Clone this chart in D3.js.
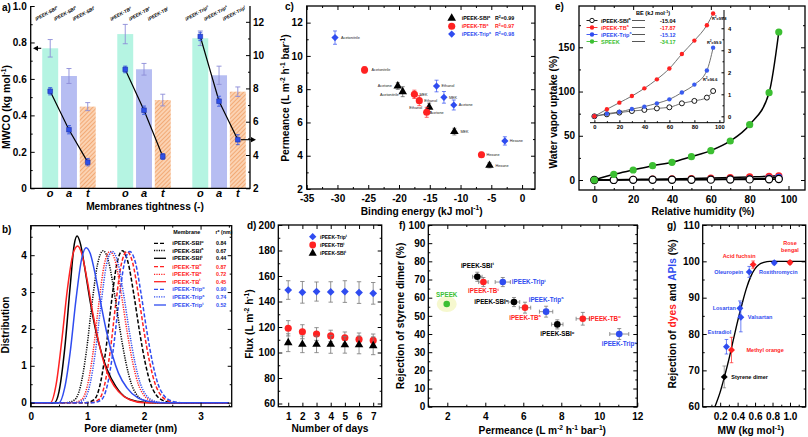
<!DOCTYPE html>
<html><head><meta charset="utf-8">
<script src="https://cdn.jsdelivr.net/npm/d3@7"></script>
<style>body{margin:0;background:#fff}svg{display:block}</style>
</head><body><script>
// ================= DATA =================
// (a) MWCO bars (left axis) and pore values (right axis)
const aMembranes=["iPEEK-SBI","iPEEK-TB","iPEEK-Trip"];
const aTight=["o","a","t"];
const aMWCO=[[0.768,0.616,0.448],[0.846,0.653,0.484],[0.823,0.62,0.53]];
const aMWCOErr=[[0.048,0.041,0.022],[0.053,0.032,0.032],[0.04,0.05,0.026]];
const aPore=[[7.83,5.52,3.57],[9.14,6.69,3.91],[11.12,7.23,4.92]];
const aPoreErr=[[0.22,0.25,0.22],[0.2,0.25,0.18],[0.25,0.3,0.3]];
const aLeftTicks=[0,0.2,0.4,0.6,0.8,1.0];
const aRightTicks=[2,4,6,8,10,12];

// (b) pore size distributions
const bNames=["iPEEK-SBI","iPEEK-SBI","iPEEK-SBI","iPEEK-TB","iPEEK-TB","iPEEK-TB","iPEEK-Trip","iPEEK-Trip","iPEEK-Trip"];
const bSup=["o","a","t","o","a","t","o","a","t"];
const bR=["0.84","0.67","0.44","0.87","0.72","0.45","0.90","0.74","0.52"];
const bSBIo_x=[0,0.97,1.12,1.22,1.32,1.42,1.52,1.62,1.72,1.82,1.92,2.02,2.12,2.22,2.37,2.52,3.5];
const bTBo_x=[0,1.05,1.20,1.30,1.40,1.50,1.60,1.70,1.80,1.90,2.00,2.10,2.20,2.30,2.45,2.60,3.5];
const bTripo_x=[0,1.10,1.25,1.35,1.45,1.55,1.65,1.75,1.85,1.95,2.05,2.15,2.25,2.35,2.50,2.65,3.5];
const bSBIa_x=[0,0.63,0.78,0.88,0.98,1.08,1.18,1.28,1.38,1.48,1.58,1.68,1.78,1.88,2.03,2.18,3.5];
const bTBa_x=[0,0.75,0.90,1.00,1.10,1.20,1.30,1.40,1.50,1.60,1.70,1.80,1.90,2.00,2.15,2.30,3.5];
const bTripa_x=[0,0.79,0.94,1.04,1.14,1.24,1.34,1.44,1.54,1.64,1.74,1.84,1.94,2.04,2.19,2.34,3.5];
const bSBIo_y=[0,0,0.08,0.45,1.35,2.65,3.75,4.12,3.8,2.95,1.95,1.1,0.5,0.2,0.04,0,0];
const bTBo_y=[0,0,0.08,0.45,1.35,2.65,3.75,4.1,3.8,2.95,1.95,1.1,0.5,0.2,0.04,0,0];
const bTripo_y=[0,0,0.08,0.45,1.35,2.65,3.75,4.1,3.8,2.95,1.95,1.1,0.5,0.2,0.04,0,0];
const bSBIa_y=[0,0,0.08,0.45,1.35,2.65,3.75,4.12,3.8,2.95,1.95,1.1,0.5,0.2,0.04,0,0];
const bTBa_y=[0,0,0.08,0.45,1.35,2.65,3.75,4.1,3.8,2.95,1.95,1.1,0.5,0.2,0.04,0,0];
const bTripa_y=[0,0,0.08,0.45,1.35,2.65,3.75,4.1,3.8,2.95,1.95,1.1,0.5,0.2,0.04,0,0];
const bSBIt_x=[0,0.42,0.50,0.60,0.70,0.77,0.82,0.88,0.95,1.05,1.15,1.25,1.35,1.50,1.70,1.90,2.10,3.5];
const bSBIt_y=[0,0,0.3,1.45,3.2,4.3,4.52,4.3,3.7,2.75,1.95,1.35,0.9,0.45,0.12,0.03,0,0];
const bTBt_x=[0,0.35,0.45,0.55,0.65,0.75,0.83,0.90,1.00,1.10,1.20,1.30,1.40,1.55,1.75,2.00,3.5];
const bTBt_y=[0,0,0.5,1.7,3.1,4.05,4.25,4.05,3.3,2.4,1.65,1.05,0.65,0.3,0.08,0,0];
const bTript_x=[0,0.50,0.60,0.70,0.80,0.90,0.98,1.05,1.15,1.25,1.35,1.45,1.55,1.70,1.90,2.10,2.30,3.5];
const bTript_y=[0,0,0.4,1.4,2.8,3.9,4.2,4.05,3.4,2.6,1.85,1.25,0.8,0.4,0.12,0.03,0,0];

// (c) permeance vs binding energy
const cSolvents=["Acetonitrile","Acetone","Ethanol","MEK","Hexane"];
const cSeries=["iPEEK-SBI","iPEEK-TB","iPEEK-Trip"];
const cR2=["0.99","0.97","0.98"];
const cSBI_BE=[-19.4,-20.2,-15.1,-11.0,-5.3];
const cSBI_P=[7.85,8.19,6.91,5.45,3.42];
const cSBI_Err=[0.3,0.2,0.25,0.2,0.15];
const cTB_BE=[-25.6,-15.5,-16.7,-17.5,-6.6];
const cTB_P=[9.16,6.61,7.31,7.69,4.06];
const cTB_Err=[0.2,0.3,0.3,0.25,0.15];
const cTrip_BE=[-30.4,-11.1,-13.9,-12.7,-2.8];
const cTrip_P=[11.1,7.05,8.19,7.51,4.89];
const cTrip_Err=[0.4,0.3,0.35,0.35,0.25];

// (d) flux stability
const dDays=[1,2,3,4,5,6,7];
const dTrip=[149,147.2,147.8,147.5,147.8,147,146.4];
const dTripErr=[7.3,8.5,7.5,8,8.5,8.5,8.5];
const dTB=[119,116.3,114.5,113,111.6,110.3,109.5];
const dTBErr=[6,5.5,5,4.5,4.5,5,5];
const dSBI=[107.7,106.4,106.4,106.4,106,106,105.3];
const dSBIErr=[7,6.5,6.5,7,6.5,7,7];

// (e) water vapour uptake
const eRH=[0,10,20,30,40,50,60,70,80,90,95];
const eSBI=[0,0.09,0.17,0.24,0.29,0.36,0.41,0.59,0.7,0.85,1.15];
const eTB=[0,0.32,0.62,0.92,1.27,1.68,2.17,2.83,3.44,4.14,4.67];
const eTrip=[0,0.12,0.2,0.33,0.44,0.59,0.77,1.08,1.44,2.08,3.12];
const eSPEEK=[0,6.4,11.3,16.2,20,26.4,33.2,44.1,62.5,98.7,167.3];
const eBE=["-15.04","-17.87","-15.12","-34.17"];
const eR2=["96.6","99.8","99.9"];

// (f) rejection vs permeance
const fNames=["SPEEK","iPEEK-SBI","iPEEK-TB","iPEEK-Trip","iPEEK-SBI","iPEEK-TB","iPEEK-Trip","iPEEK-SBI","iPEEK-TB","iPEEK-Trip"];
const fSup=["","t","t","t","a","a","a","o","o","o"];
const fPerm=[1.97,3.58,3.9,4.92,5.51,6.09,7.2,7.79,9.13,11.05];
const fPermErr=[0,0.25,0.25,0.4,0.3,0.3,0.35,0.3,0.35,0.5];
const fRej=[56.5,71.5,68.6,68.6,57.6,54.5,52.3,45.3,48.4,40];
const fRejErr=[0,2.5,2.5,2.5,2.5,3,3,2.5,3.5,3];

// (g) rejection vs MW
const gNames=["Styrene dimer","Estradiol","Methyl orange","Losartan","Valsartan","Oleuropein","Acid fuchsin","Roxithromycin","Rose bengal"];
const gKind=["ref","api","dye","api","api","api","dye","api","dye"];
const gMW=[0.247,0.272,0.33,0.426,0.437,0.533,0.578,0.82,1.0];
const gRej=[68.2,76.5,75.6,87.1,84.6,97.1,99.1,99.6,99.7];
const gErr=[3,2,3.5,2,4,1.5,1,0.5,0.5];
const gFitMW=[0.14,0.2,0.25,0.3,0.35,0.4,0.45,0.5,0.55,0.6,0.65,0.7,0.77,0.9,1.18];
const gFitRej=[60,64,68.3,73,78.3,83.5,88.2,92.5,95.8,98,99.2,99.7,100,100,100];

// ================= HELPERS =================
const FONT="'Liberation Sans', Arial, Helvetica, sans-serif";
const RED="#ff2222", BLU="#2f4cf0", GRN="#3cbf32", BLK="#000";
const svg=d3.select("body").append("svg").attr("width",808).attr("height",437).style("font-family",FONT);
svg.append("rect").attr("width",808).attr("height",437).attr("fill","#fff");
const defs=svg.append("defs");

function txt(g,x,y,segs,o={}){
  const fs=o.fs||10;
  const t=g.append("text").attr("x",x).attr("y",y).attr("font-size",fs)
    .attr("font-weight",o.fw||"bold").attr("fill",o.fill||"#000")
    .attr("text-anchor",o.anchor||"start").attr("font-family",FONT);
  if(o.italic) t.attr("font-style","italic");
  if(o.rotate!=null) t.attr("transform",`rotate(${o.rotate},${x},${y})`);
  if(typeof segs==="string") segs=[segs];
  let up=false;
  segs.forEach(s=>{
    if(typeof s==="string") s={t:s};
    const sp=t.append("tspan").text(s.t);
    if(s.sup){ sp.attr("font-size",fs*0.65); if(!up){sp.attr("dy",-fs*0.4); up=true;} }
    else if(up){ sp.attr("dy",fs*0.4); up=false; }
    if(s.fill) sp.attr("fill",s.fill);
  });
  return t;
}
const nm=(base,sup)=>sup?[base,{t:sup,sup:true}]:[base];

function axes(g,x,y,o){
  const [x0,x1]=x.range(),[yb,yt]=y.range();
  if(o.noTop) g.append("path").attr("d",`M${x0},${yt}V${yb}H${x1}V${yt}`).attr("fill","none").attr("stroke","#000").attr("stroke-width",1.3);
  else g.append("rect").attr("x",x0).attr("y",yt).attr("width",x1-x0).attr("height",yb-yt).attr("fill","none").attr("stroke","#000").attr("stroke-width",1.3);
  const def=d=>String(d);
  const mk=(axis,tr,labels,fmt,pad,size)=>{
    const gg=g.append("g").attr("transform",tr).call(axis.tickSizeInner(-size).tickSizeOuter(0).tickPadding(pad).tickFormat(labels?(fmt||def):()=>""));
    gg.select(".domain").remove();
    gg.selectAll("line").attr("stroke","#000").attr("stroke-width",1);
    gg.selectAll("text").attr("font-size",o.fs||10).attr("font-weight","bold").attr("fill","#000").attr("font-family",FONT);
    return gg;
  };
  if(o.xt){
    mk(d3.axisBottom(x).tickValues(o.xt),`translate(0,${yb})`,true,o.xf,o.xpad??5,4);
    if(o.xm) mk(d3.axisBottom(x).tickValues(o.xm),`translate(0,${yb})`,false,null,0,2);
    if(o.mirror){ mk(d3.axisTop(x).tickValues(o.xt),`translate(0,${yt})`,false,null,0,4);
      if(o.xm) mk(d3.axisTop(x).tickValues(o.xm),`translate(0,${yt})`,false,null,0,2); }
  }
  if(o.yt){
    mk(d3.axisLeft(y).tickValues(o.yt),`translate(${x0},0)`,true,o.yf,o.ypad??4,4);
    if(o.ym) mk(d3.axisLeft(y).tickValues(o.ym),`translate(${x0},0)`,false,null,0,2);
    if(o.mirror){ mk(d3.axisRight(y).tickValues(o.yt),`translate(${x1},0)`,false,null,0,4);
      if(o.ym) mk(d3.axisRight(y).tickValues(o.ym),`translate(${x1},0)`,false,null,0,2); }
  }
}
function sym(g,type,cx,cy,size,fill,stroke,sw){
  const s={tri:d3.symbolTriangle,circle:d3.symbolCircle,square:d3.symbolSquare,diamond:d3.symbolSquare}[type];
  g.append("path").attr("d",d3.symbol(s,size)())
    .attr("transform",`translate(${cx},${cy})${type==="diamond"?" rotate(45)":""}`)
    .attr("fill",fill).attr("stroke",stroke||"none").attr("stroke-width",sw||0.8);
}
function vErr(g,x,y1,y2,cap,col,w){g.append("path").attr("d",`M${x},${y1}V${y2}M${x-cap},${y1}H${x+cap}M${x-cap},${y2}H${x+cap}`).attr("stroke",col).attr("stroke-width",w||0.8).attr("fill","none");}
function hErr(g,y,x1,x2,cap,col,w){g.append("path").attr("d",`M${x1},${y}H${x2}M${x1},${y-cap}V${y+cap}M${x2},${y-cap}V${y+cap}`).attr("stroke",col).attr("stroke-width",w||0.8).attr("fill","none");}
const smooth=d3.line().curve(d3.curveMonotoneX);

// ================= PANEL a =================
{
  const g=svg.append("g");
  const x=d3.scaleLinear().domain([-1.04,10.65]).range([30.7,250]);
  const y=d3.scaleLinear().domain([0,1]).range([188.3,6]);
  const y2=d3.scaleLinear().domain([2,12.95]).range([188.3,6]);
  const pat=defs.append("pattern").attr("id","hatchA").attr("patternUnits","userSpaceOnUse").attr("width",3).attr("height",3).attr("patternTransform","rotate(45)");
  pat.append("rect").attr("width",3).attr("height",3).attr("fill","#fbd2b2");
  pat.append("line").attr("x1",0).attr("y1",0).attr("x2",0).attr("y2",3).attr("stroke","#f0a066").attr("stroke-width",1.6);
  const fills=["#b5f4e2","#b6bdf2","url(#hatchA)"];
  const slot=(gi,ti)=>gi*4+ti;
  const bw=x(0.85)-x(0);
  aMembranes.forEach((m,gi)=>aTight.forEach((t,ti)=>{
    const cx=x(slot(gi,ti)), v=aMWCO[gi][ti], e=aMWCOErr[gi][ti];
    g.append("rect").attr("x",cx-bw/2).attr("y",y(v)).attr("width",bw).attr("height",y(0)-y(v)).attr("fill",fills[ti]);
    vErr(g,cx,y(v-e),y(v+e),2.5,"#8c8cd8",0.9);
    txt(g,cx-14,21,nm(m,t),{fs:4.7,italic:true,rotate:-29});
    txt(g,cx,197,t,{fs:11,italic:true,anchor:"middle"});
  }));
  aMembranes.forEach((m,gi)=>{
    const pts=aTight.map((t,ti)=>[x(slot(gi,ti)),y2(aPore[gi][ti])]);
    g.append("path").attr("d",d3.line()(pts)).attr("stroke","#000").attr("stroke-width",1.2).attr("fill","none");
    aTight.forEach((t,ti)=>{
      const cx=x(slot(gi,ti)),v=aPore[gi][ti],e=aPoreErr[gi][ti];
      vErr(g,cx,y2(v-e),y2(v+e),2,"#3050e0",0.8);
      sym(g,"square",cx,y2(v),22,"#2d4fe8","#1b2fa8",0.6);
    });
  });
  axes(g,x,y,{noTop:true,yt:aLeftTicks,ym:[0.1,0.3,0.5,0.7,0.9],yf:d=>d===0?"0":d3.format(".1f")(d)});
  const gr=g.append("g").attr("transform","translate(250,0)").call(d3.axisRight(y2).tickValues(aRightTicks).tickSizeInner(-4).tickSizeOuter(0).tickPadding(3).tickFormat(d=>String(d)));
  gr.select(".domain").remove(); gr.selectAll("line").attr("stroke","#000");
  gr.selectAll("text").attr("font-size",10).attr("font-weight","bold").attr("font-family",FONT).attr("fill","#000");
  const gm=g.append("g").attr("transform","translate(250,0)").call(d3.axisRight(y2).tickValues([3,5,7,9,11]).tickSizeInner(-2).tickSizeOuter(0).tickFormat(()=>""));
  gm.select(".domain").remove(); gm.selectAll("line").attr("stroke","#000");
  // arrows
  const ya=y(aMWCO[0][0]);
  g.append("line").attr("x1",x(0)-bw/2-1).attr("x2",36).attr("y1",ya).attr("y2",ya).attr("stroke","#000").attr("stroke-width",1.1);
  g.append("path").attr("d",`M33,${ya}l5,-2.6v5.2z`).attr("fill","#000");
  const yb2=y2(aPore[2][2]);
  g.append("line").attr("x1",x(slot(2,2))+3).attr("x2",252).attr("y1",yb2).attr("y2",yb2).attr("stroke","#000").attr("stroke-width",1.1);
  g.append("path").attr("d",`M256,${yb2}l-5,-2.6v5.2z`).attr("fill","#000");
  txt(g,10,107,["MWCO (kg mol",{t:"-1",sup:true},")"],{fs:10.5,rotate:-90,anchor:"middle"});
  txt(g,145,210,"Membranes tightness (-)",{fs:10.2,anchor:"middle"});
  txt(g,2,11,"a)",{fs:10});
}

// ================= PANEL c =================
{
  const g=svg.append("g");
  const x=d3.scaleLinear().domain([-35,2.1]).range([306.7,535]);
  const y=d3.scaleLinear().domain([2,13]).range([189,6]);
  axes(g,x,y,{xt:[-35,-30,-25,-20,-15,-10,-5,0],xm:[-32.5,-27.5,-22.5,-17.5,-12.5,-7.5,-2.5],yt:[2,4,6,8,10,12],ym:[3,5,7,9,11],mirror:true,xpad:5.5});
  const series=[
    {be:cSBI_BE,p:cSBI_P,e:cSBI_Err,col:"#000",type:"tri",size:32,lab:[[-4,4.5,"end"],[-6,1,"end"],[-7,1.5,"end"],[6,1.3,"start"],[6,1.3,"start"]]},
    {be:cTB_BE,p:cTB_P,e:cTB_Err,col:RED,type:"circle",size:40,lab:[[7,1.3,"start"],[3,2,"start"],[5,1.3,"start"],[5,1.3,"start"],[5,1.3,"start"]]},
    {be:cTrip_BE,p:cTrip_P,e:cTrip_Err,col:BLU,type:"diamond",size:26,lab:[[6,1.3,"start"],[5,1.3,"start"],[5,1.3,"start"],[5,1.3,"start"],[5,1.3,"start"]]}];
  series.forEach(s=>{
    s.be.forEach((b,i)=>{
      vErr(g,x(b),y(s.p[i]-s.e[i]),y(s.p[i]+s.e[i]),2,s.col==="#000"?"#555":s.col,0.7);
      sym(g,s.type,x(b),y(s.p[i]),s.size,s.col);
      const L=s.lab[i];
      txt(g,x(b)+L[0],y(s.p[i])+L[1],cSolvents[i],{fs:3.8,fw:"normal",anchor:L[2],fill:"#222"});
    });
  });
  const leg=[[BLK,"tri",32],[RED,"circle",40],[BLU,"diamond",26]];
  cSeries.forEach((n,i)=>{
    const yy=18.3+i*7.9;
    sym(g,leg[i][1],451.7,yy,leg[i][2],leg[i][0]);
    txt(g,461.7,yy+2,nm(n,"a"),{fs:5.3,fill:i===0?"#000":leg[i][0]});
    txt(g,495,yy+2,["R",{t:"2",sup:true},"="+cR2[i]],{fs:5.3,fill:i===0?"#000":leg[i][0]});
  });
  txt(g,289,98,["Permeance (L m",{t:"-2",sup:true}," h",{t:"-1",sup:true}," bar",{t:"-1",sup:true},")"],{fs:10.2,rotate:-90,anchor:"middle"});
  txt(g,421.7,214.5,["Binding energy (kJ mol",{t:"-1",sup:true},")"],{fs:10.2,anchor:"middle"});
  txt(g,285,10,"c)",{fs:10});
}

// ================= PANEL e =================
{
  const g=svg.append("g");
  const x=d3.scaleLinear().domain([-7.9,108.5]).range([579,805]);
  const y=d3.scaleLinear().domain([-11.3,196.7]).range([190,6]);
  axes(g,x,y,{xt:[0,20,40,60,80,100],xm:[10,30,50,70,90],yt:[0,50,100,150],ym:[25,75,125,175],mirror:true,xpad:6});
  const mainSeries=[[eTB,RED,"#000"],[eTrip,BLU,"#000"],[eSBI,"#fff","#000"],[eSPEEK,GRN,"#000"]];
  mainSeries.forEach(([v])=>{
    g.append("path").attr("d",smooth(eRH.map((r,i)=>[x(r),y(v[i])]))).attr("fill","none").attr("stroke","#000").attr("stroke-width",1.5);
  });
  mainSeries.forEach(([v,f])=>{
    eRH.forEach((r,i)=>g.append("circle").attr("cx",x(r)).attr("cy",y(v[i])).attr("r",3.6).attr("fill",f).attr("stroke",f==="#fff"?"#000":"none").attr("stroke-width",1.2));
  });
  // inset
  const xi=d3.scaleLinear().domain([-3.5,103.7]).range([590,724]);
  const yi=d3.scaleLinear().domain([-0.29,4.83]).range([122.7,10]);
  const ig=g.append("g");
  ig.append("path").attr("d",`M590,122.7H724V10`).attr("fill","none").attr("stroke","#000").attr("stroke-width",1);
  const ib=ig.append("g").attr("transform","translate(0,122.7)").call(d3.axisBottom(xi).tickValues([0,20,40,60,80,100]).tickSizeInner(-2.5).tickSizeOuter(0).tickPadding(2.5).tickFormat(d=>String(d)));
  const ib2=ig.append("g").attr("transform","translate(0,122.7)").call(d3.axisBottom(xi).tickValues([10,30,50,70,90]).tickSizeInner(-1.5).tickSizeOuter(0).tickFormat(()=>""));
  const ir=ig.append("g").attr("transform","translate(724,0)").call(d3.axisRight(yi).tickValues([0,1,2,3,4]).tickSizeInner(-2.5).tickSizeOuter(0).tickPadding(4).tickFormat(d=>String(d)));
  const ir2=ig.append("g").attr("transform","translate(724,0)").call(d3.axisRight(yi).tickValues([0.5,1.5,2.5,3.5,4.5]).tickSizeInner(-1.5).tickSizeOuter(0).tickFormat(()=>""));
  [ib,ib2,ir,ir2].forEach(a=>{a.select(".domain").remove();a.selectAll("line").attr("stroke","#000");
    a.selectAll("text").attr("font-size",5.8).attr("font-weight","bold").attr("font-family",FONT).attr("fill","#000");});
  const inSeries=[[eSBI,"#fff"],[eTrip,"#3a5cf0"],[eTB,"#f22"]];
  inSeries.forEach(([v])=>ig.append("path").attr("d",smooth(eRH.map((r,i)=>[xi(r),yi(v[i])]))).attr("fill","none").attr("stroke","#606060").attr("stroke-width",0.9));
  inSeries.forEach(([v,f])=>eRH.forEach((r,i)=>ig.append("circle").attr("cx",xi(r)).attr("cy",yi(v[i])).attr("r",f==="#fff"?2.5:2.2).attr("fill",f).attr("stroke",f==="#fff"?"#000":"none").attr("stroke-width",0.9)));
  txt(ig,712,19.5,["R",{t:"2",sup:true},"="+eR2[1]],{fs:4});
  txt(ig,707,43.5,["R",{t:"2",sup:true},"="+eR2[2]],{fs:4});
  txt(ig,703,81,["R",{t:"2",sup:true},"="+eR2[0]],{fs:4});
  // legend
  txt(ig,636,15,["BE (kJ mol",{t:"-1",sup:true},")"],{fs:5.6});
  const legCols=["#000",RED,BLU,GRN], legFill=["#fff",RED,BLU,GRN];
  const legNames=[nm("iPEEK-SBI","a"),nm("iPEEK-TB","a"),nm("iPEEK-Trip","a"),["SPEEK"]];
  legNames.forEach((n,i)=>{
    const yy=20.5+i*7;
    ig.append("line").attr("x1",586.5).attr("x2",597.5).attr("y1",yy).attr("y2",yy).attr("stroke",legCols[i]).attr("stroke-width",0.9);
    ig.append("circle").attr("cx",592).attr("cy",yy).attr("r",2.2).attr("fill",legFill[i]).attr("stroke",i===0?"#000":"none").attr("stroke-width",0.9);
    txt(ig,601,yy+2,n,{fs:5.5,fill:legCols[i]});
    ig.append("line").attr("x1",632).attr("x2",645).attr("y1",yy).attr("y2",yy).attr("stroke","#444").attr("stroke-width",0.9);
    txt(ig,660,yy+2,eBE[i],{fs:5.5,fill:legCols[i]});
  });
  txt(g,557,112,"Water vapor uptake (%)",{fs:10.2,rotate:-90,anchor:"middle"});
  txt(g,703,215,"Relative humidity (%)",{fs:10.2,anchor:"middle"});
  txt(g,555,10,"e)",{fs:10});
}

// ================= PANEL b =================
{
  const g=svg.append("g");
  const x=d3.scaleLinear().domain([0,3.55]).range([30.7,231.7]);
  const y=d3.scaleLinear().domain([-0.11,4.8]).range([406.7,225.7]);
  const curves=[[bSBIo_x,bSBIo_y],[bSBIa_x,bSBIa_y],[bSBIt_x,bSBIt_y],[bTBo_x,bTBo_y],[bTBa_x,bTBa_y],[bTBt_x,bTBt_y],[bTripo_x,bTripo_y],[bTripa_x,bTripa_y],[bTript_x,bTript_y]];
  const cols=["#000","#000","#000",RED,RED,RED,BLU,BLU,BLU];
  const dash=["4,2","1.2,1.2",null,"4,2","1.2,1.2",null,"4,2","1.2,1.2",null];
  const order=[0,3,6,1,4,7,2,5,8];
  order.forEach(i=>{
    const [xs,ys]=curves[i];
    g.append("path").attr("d",smooth(xs.map((v,k)=>[x(v),y(ys[k])]))).attr("fill","none").attr("stroke",cols[i]).attr("stroke-width",1.5).attr("stroke-dasharray",dash[i]);
  });
  axes(g,x,y,{xt:[0,1,2,3],xm:[0.5,1.5,2.5,3.5],yt:[0,1,2,3,4],ym:[0.5,1.5,2.5,3.5,4.5],mirror:true,xpad:6});
  txt(g,173.3,234,"Membrane",{fs:5.4});
  txt(g,215.5,234,["r* (nm)"],{fs:5.2});
  bNames.forEach((n,i)=>{
    const yy=[243.3,250.5,258.3,266.7,274.3,281.7,289.3,296.9,305][i];
    g.append("line").attr("x1",154).attr("x2",166).attr("y1",yy).attr("y2",yy).attr("stroke",cols[i]).attr("stroke-width",1.3).attr("stroke-dasharray",dash[i]);
    txt(g,172.3,yy+2,nm(n,bSup[i]),{fs:5.8,fill:cols[i]});
    txt(g,216,yy+2,bR[i],{fs:5.3,fill:cols[i]});
  });
  txt(g,9,325,"Distribution",{fs:10.2,rotate:-90,anchor:"middle"});
  txt(g,130.7,432,"Pore diameter (nm)",{fs:10.2,anchor:"middle"});
  txt(g,2,233,"b)",{fs:10});
}

// ================= PANEL d =================
{
  const g=svg.append("g");
  const x=d3.scaleLinear().domain([0.3,7.6]).range([278.3,381.7]);
  const y=d3.scaleLinear().domain([57.5,200]).range([406.7,225]);
  axes(g,x,y,{xt:dDays,yt:[60,80,100,120,140,160,180,200],ym:[70,90,110,130,150,170,190],mirror:true,xpad:6,ypad:3});
  const S=[[dTrip,dTripErr,BLU,"diamond",30],[dTB,dTBErr,RED,"circle",40],[dSBI,dSBIErr,"#000","tri",32]];
  S.forEach(([v,e,c,t,s])=>dDays.forEach((d,i)=>{
    vErr(g,x(d),y(v[i]-e[i]),y(v[i]+e[i]),2.2,"#777",0.8);
    sym(g,t,x(d),y(v[i]),s,c);
  }));
  const legN=[nm("iPEEK-Trip","t"),nm("iPEEK-TB","t"),nm("iPEEK-SBI","t")];
  S.forEach(([v,e,c,t,s],i)=>{
    const yy=236.7+i*8.3;
    sym(g,t,312.7,yy,s*0.9,c);
    txt(g,320,yy+1.8,legN[i],{fs:5});
  });
  txt(g,253,324,["Flux (L m",{t:"-2",sup:true}," h",{t:"-1",sup:true},")"],{fs:10.2,rotate:-90,anchor:"middle"});
  txt(g,330,432,"Number of days",{fs:10.2,anchor:"middle"});
  txt(g,247,229,"d)",{fs:10});
}

// ================= PANEL f =================
{
  const g=svg.append("g");
  const x=d3.scaleLinear().domain([1,12]).range([428.3,637.3]);
  const y=d3.scaleLinear().domain([0,100]).range([406.7,225]);
  axes(g,x,y,{xt:[2,4,6,8,10,12],xm:[1,3,5,7,9,11],yt:[0,10,20,30,40,50,60,70,80,90,100],ym:[5,15,25,35,45,55,65,75,85,95],mirror:true,xpad:6,ypad:3});
  const colOf=n=>n==="SPEEK"?GRN:n.includes("SBI")?"#000":n.includes("TB")?RED:BLU;
  const lab=[[0,-7,"middle"],[0,-9,"middle"],[0,11,"middle"],[9,2,"start"],[-6,2,"end"],[0,12,"middle"],[0,-10,"middle"],[0,12,"middle"],[6,2,"start"],[0,12,"middle"]];
  g.append("ellipse").attr("cx",x(fPerm[0])).attr("cy",y(fRej[0])).attr("rx",10).attr("ry",8).attr("fill","#f6f8cf");
  fNames.forEach((n,i)=>{
    const c=colOf(n), cx=x(fPerm[i]), cy=y(fRej[i]);
    if(fRejErr[i]) vErr(g,cx,y(fRej[i]-fRejErr[i]),y(fRej[i]+fRejErr[i]),2,"#777",0.8);
    if(fPermErr[i]) hErr(g,cy,x(fPerm[i]-fPermErr[i]),x(fPerm[i]+fPermErr[i]),2,"#777",0.8);
    g.append("circle").attr("cx",cx).attr("cy",cy).attr("r",3.3).attr("fill",c);
    const L=lab[i];
    txt(g,cx+L[0],cy+L[1],nm(n,fSup[i]),{fs:6.3,fill:c,anchor:L[2]});
  });
  txt(g,404,316,"Rejection of styrene dimer (%)",{fs:10.2,rotate:-90,anchor:"middle"});
  txt(g,542.3,434,["Permeance (L m",{t:"-2",sup:true}," h",{t:"-1",sup:true}," bar",{t:"-1",sup:true},")"],{fs:10.2,anchor:"middle"});
  txt(g,399,229,"f)",{fs:10});
}

// ================= PANEL g =================
{
  const g=svg.append("g");
  const x=d3.scaleLinear().domain([0,1.18]).range([702.7,805.7]);
  const y=d3.scaleLinear().domain([60,110]).range([406.7,225]);
  defs.append("clipPath").attr("id","clipG").append("rect").attr("x",702.7).attr("y",225).attr("width",103).attr("height",181.7);
  g.append("path").attr("clip-path","url(#clipG)").attr("d",smooth(gFitMW.map((m,i)=>[x(m),y(gFitRej[i])]))).attr("fill","none").attr("stroke","#000").attr("stroke-width",1.4);
  axes(g,x,y,{xt:[0.2,0.4,0.6,0.8,1.0],xm:[0.1,0.3,0.5,0.7,0.9,1.1],xf:d3.format(".1f"),yt:[60,70,80,90,100,110],ym:[65,75,85,95,105],mirror:true,xpad:6,ypad:3});
  const colOf=k=>k==="dye"?RED:k==="api"?BLU:"#000";
  const lab=[[7,2,"start"],[-7,-13,"middle"],[15,2,"start"],[-4,2,"end"],[7,2,"start"],[-6,2,"end"],[-14,-7,"middle"],[4,11,"middle"],[0,-11,"middle"]];
  gNames.forEach((n,i)=>{
    const c=colOf(gKind[i]), cx=x(gMW[i]), cy=y(gRej[i]);
    vErr(g,cx,y(gRej[i]-gErr[i]),y(gRej[i]+gErr[i]),1.8,c==="#000"?"#777":c,0.7);
    sym(g,"diamond",cx,cy,24,c);
    const L=lab[i];
    if(n==="Rose bengal"){
      txt(g,cx,cy-17,"Rose",{fs:5.5,fill:c,anchor:"middle"});
      txt(g,cx,cy-10,"bengal",{fs:5.5,fill:c,anchor:"middle"});
    } else txt(g,cx+L[0],cy+L[1],n,{fs:5.5,fill:c,anchor:L[2]});
  });
  txt(g,676,314,["Rejection of ",{t:"dyes",fill:RED}," and ",{t:"APIs",fill:BLU}," (%)"],{fs:10.2,rotate:-90,anchor:"middle"});
  txt(g,750.8,434,["MW (kg mol",{t:"-1",sup:true},")"],{fs:10.2,anchor:"middle"});
  txt(g,667,229,"g)",{fs:10});
}
</script></body></html>
